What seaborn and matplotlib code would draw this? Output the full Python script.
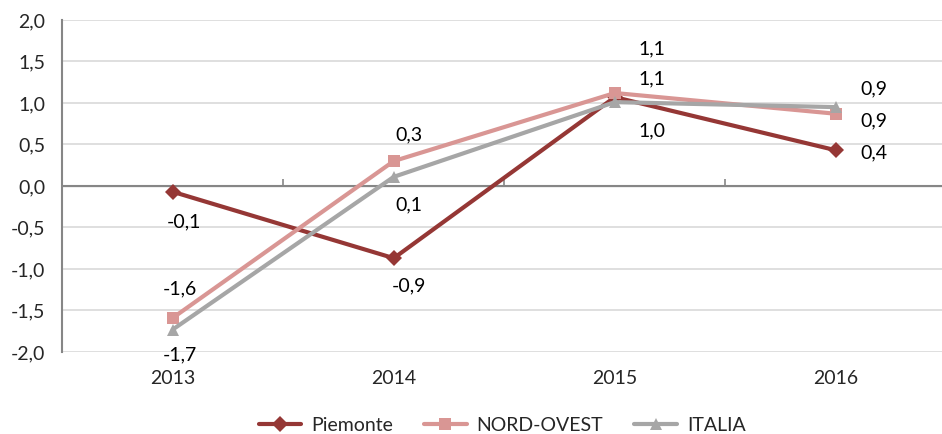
import pandas as pd
import numpy as np
import matplotlib.pyplot as plt
import seaborn as sns

# data
years = ['2013', '2014', '2015', '2016']
piemonte = [-0.07, -0.87, 1.07, 0.43]
nord_ovest = [-1.59, 0.30, 1.12, 0.87]
italia = [-1.73, 0.11, 1.01, 0.95]
series_names = ['Piemonte', 'NORD-OVEST', 'ITALIA']

# label offsets in points (dx, dy) per series / year
label_offsets = {
    'Piemonte': [(8, -22), (11, -20), (27, 35), (27, -2)],
    'NORD-OVEST': [(5, 21), (11, 19), (27, 10), (27, -5)],
    'ITALIA': [(5, -18), (11, -20), (27, -21), (27, 13)],
}

colors = {'Piemonte': '#953735', 'NORD-OVEST': '#d99694', 'ITALIA': '#a6a6a6'}
markers = {'Piemonte': 'D', 'NORD-OVEST': 's', 'ITALIA': '^'}

df = pd.DataFrame({
    'x': list(range(len(years))) * 3,
    'valore': piemonte + nord_ovest + italia,
    'serie': np.repeat(series_names, len(years)),
})

sns.set_style('white')
plt.rcParams['font.family'] = ['Lato', 'DejaVu Sans']
fs = 14

fig = plt.figure(figsize=(9.42, 4.34), dpi=100)
ax = fig.add_axes([0.066, 0.189, 0.934, 0.765])

# gridlines and the zero axis line
for y in np.arange(-2, 2.01, 0.5):
    if y != 0:
        ax.axhline(y, color='#d9d9d9', linewidth=1.2, zorder=0)
ax.axhline(0, color='#868686', linewidth=1.5, zorder=1)

sns.lineplot(data=df, x='x', y='valore', hue='serie', style='serie',
             markers=markers, dashes=False, palette=colors,
             hue_order=series_names, style_order=series_names,
             linewidth=3, markersize=8, markeredgewidth=0, ax=ax, zorder=3)

# data labels
for name, vals in zip(series_names, [piemonte, nord_ovest, italia]):
    for i, v in enumerate(vals):
        dx, dy = label_offsets[name][i]
        ax.annotate(f'{v:.1f}'.replace('.', ','), (i, v), xytext=(dx, dy),
                    textcoords='offset points', ha='center', va='center',
                    fontsize=fs, color='black')

ax.set_xlim(-0.5, 3.48)
ax.set_ylim(-2, 2)
ax.set_yticks(np.arange(-2, 2.01, 0.5))
ax.set_yticklabels([f'{t:.1f}'.replace('.', ',') for t in np.arange(-2, 2.01, 0.5)],
                   fontsize=fs)
ax.set_xticks(range(len(years)))
ax.set_xticklabels(years, fontsize=fs)
ax.tick_params(axis='x', length=0, pad=13)
ax.tick_params(axis='y', length=5, width=1.2, color='#868686', direction='out', pad=7)
ax.set_xlabel('')
ax.set_ylabel('')

for s in ['top', 'right', 'bottom']:
    ax.spines[s].set_visible(False)
ax.spines['left'].set_color('#868686')
ax.spines['left'].set_linewidth(1.5)

# category tick marks on the zero line
sec = ax.secondary_xaxis(0.5)
sec.set_xticks([0.5, 1.5, 2.5])
sec.set_xticklabels([])
sec.tick_params(length=5, width=1.2, color='#868686', direction='out')
sec.spines['bottom'].set_visible(False)

handles, labels = ax.get_legend_handles_labels()
ax.legend(handles, labels, loc='lower center', bbox_to_anchor=(0.533, -0.04),
          bbox_transform=fig.transFigure, ncol=3, frameon=False,
          handlelength=2.2, handletextpad=0.5, columnspacing=1.6, fontsize=fs)

fig.savefig('out.png', dpi=100)
